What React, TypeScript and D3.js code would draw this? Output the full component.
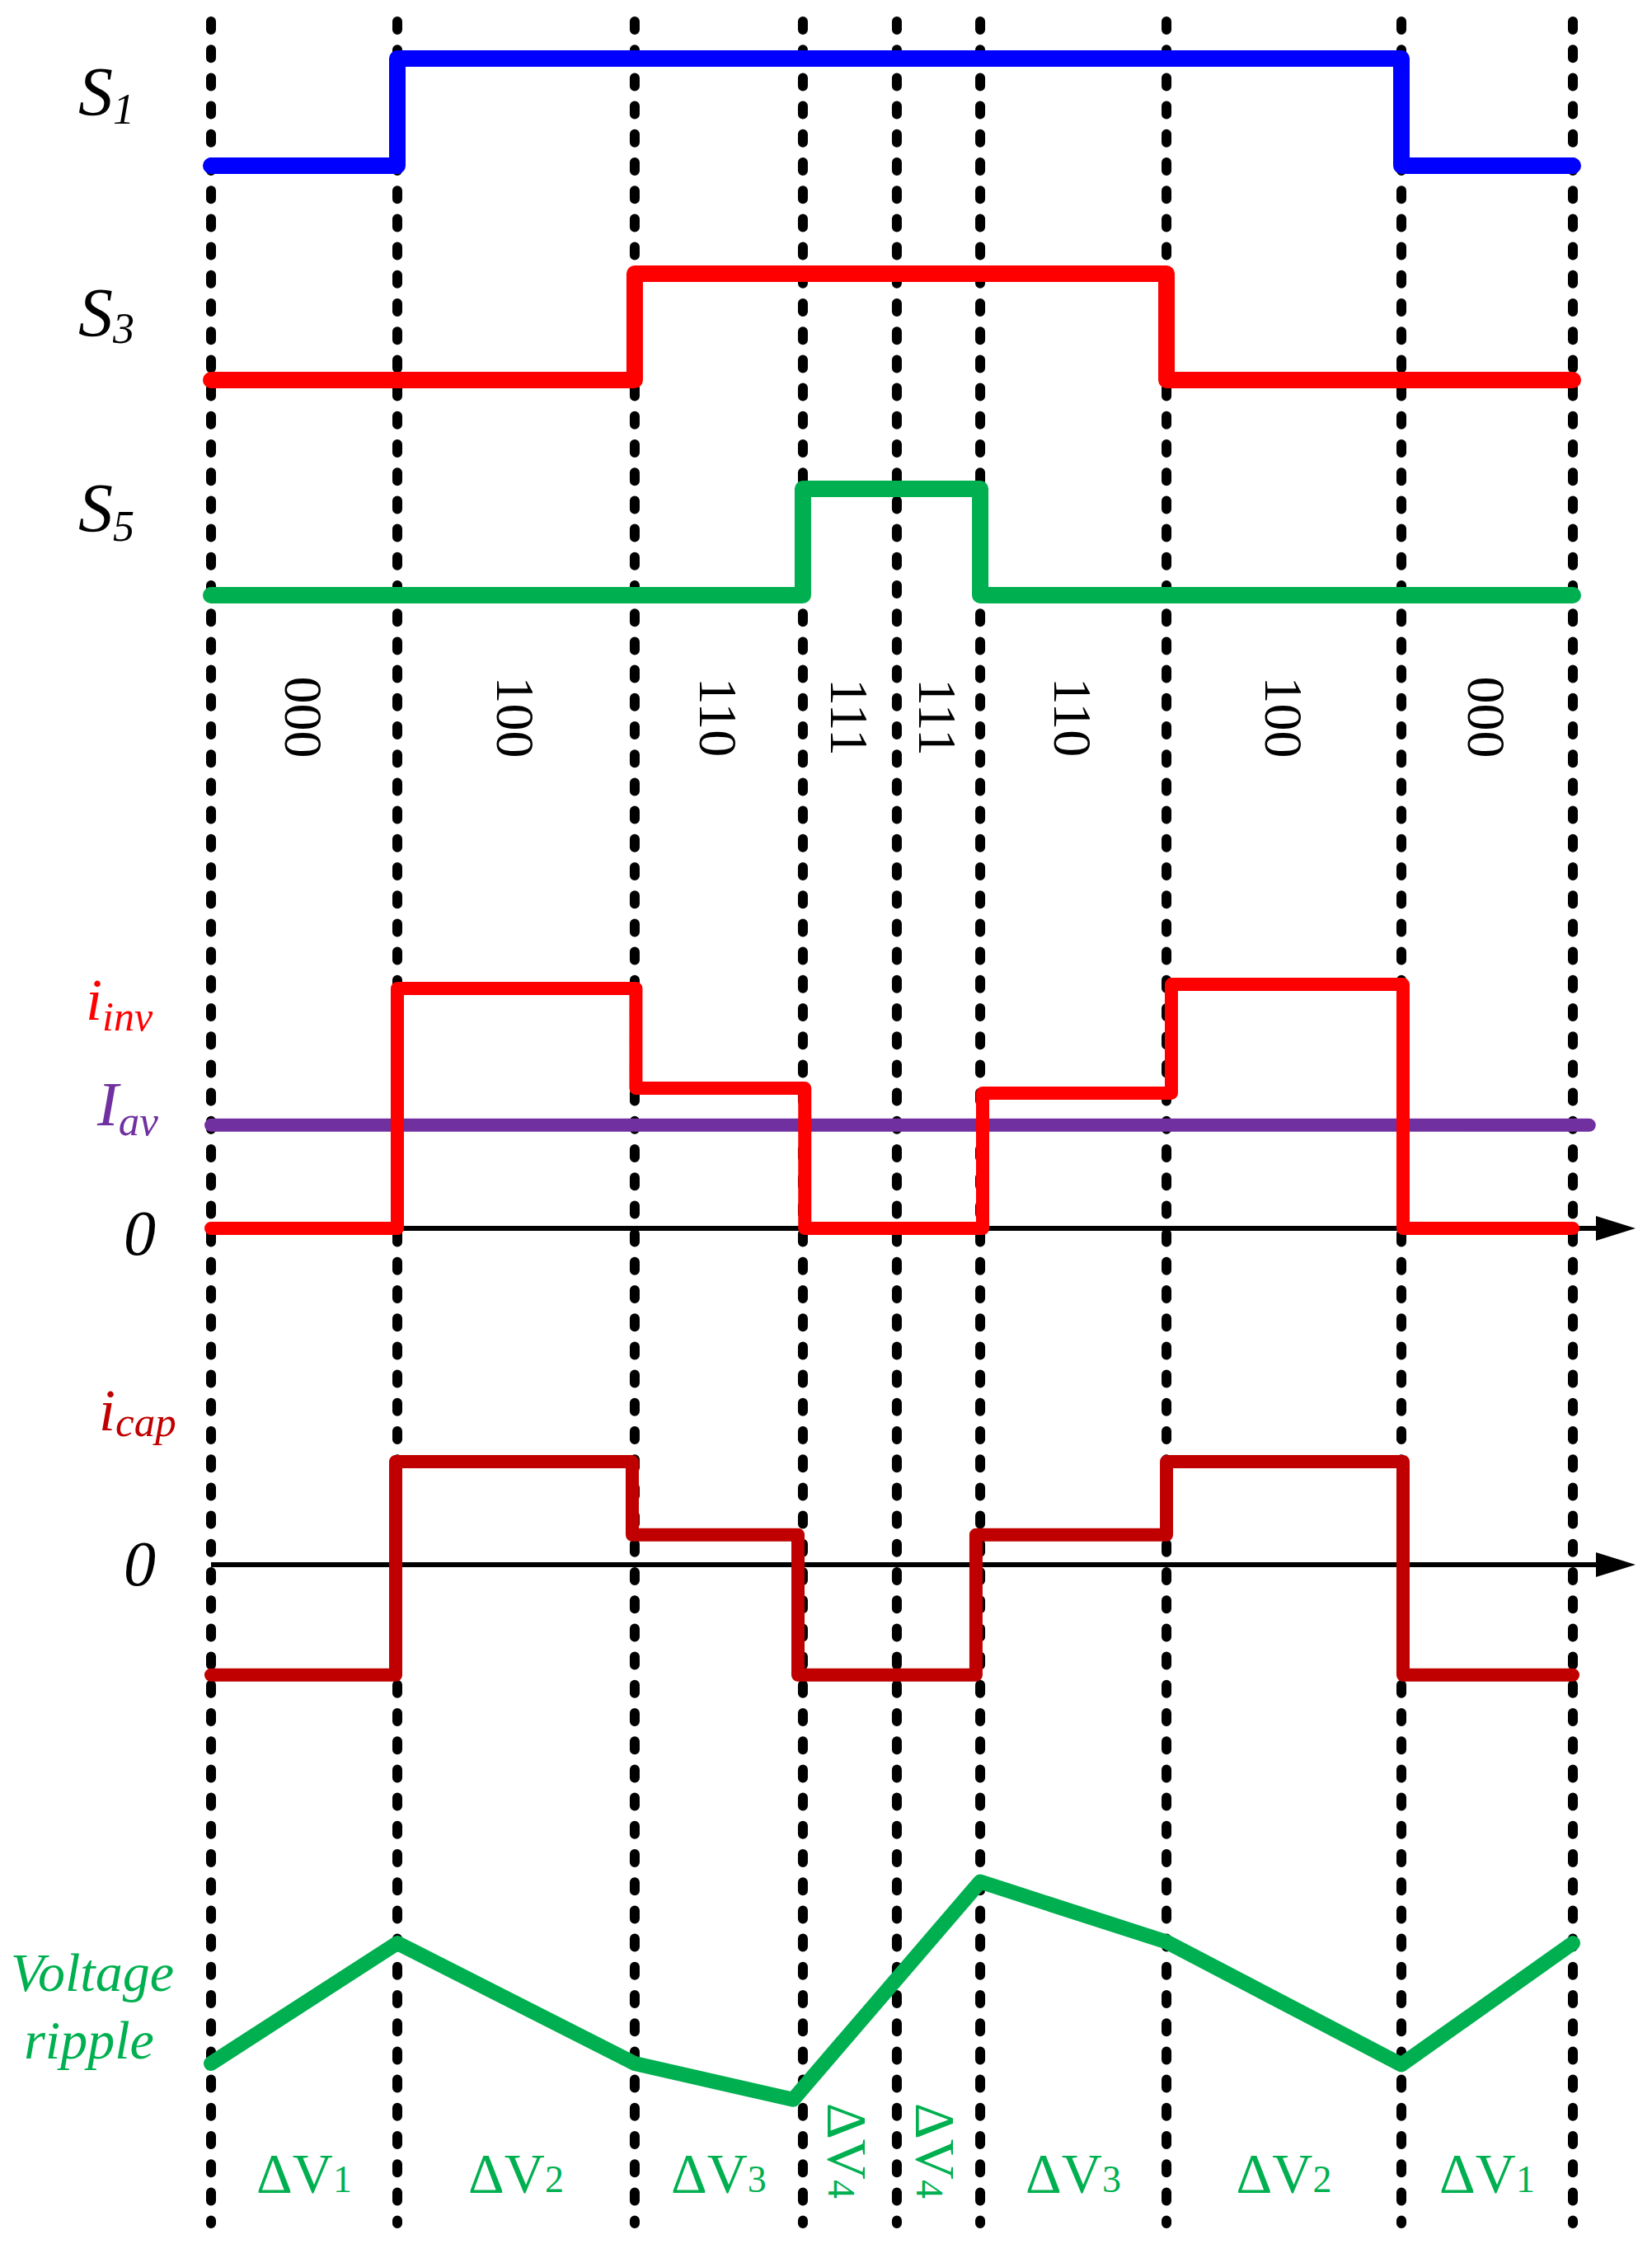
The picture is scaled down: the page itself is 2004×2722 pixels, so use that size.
import React from "react";
import * as d3 from "d3";

// ---------- data ----------
// switching instants (time in % of the period)
const boundaries = [0, 13.68, 31.11, 43.46, 50.36, 56.48, 70.16, 87.41, 100];
const stateCodes = ["000", "100", "110", "111", "111", "110", "100", "000"];
const s1Values = [0, 1, 1, 1, 1, 1, 1, 0];
const s3Values = [0, 0, 1, 1, 1, 1, 0, 0];
const s5Values = [0, 0, 0, 1, 1, 0, 0, 0];

const iinvTimes = [0, 13.68, 31.2, 43.6, 56.66, 70.52, 87.53, 100];
const iinvValues = [0, 1.0, 0.584, 0, 0.564, 1.017, 0, 0];
const iavValue = 0.43;
const iavEnd = 101.2;

const icapTimes = [0, 13.56, 30.93, 43.1, 56.17, 70.16, 87.53, 100];
const icapValues = [-1.07, 1.0, 0.29, -1.07, 0.29, 1.0, -1.07, -1.07];

const rippleTimes = [0, 13.68, 31.11, 42.74, 56.48, 70.16, 87.41, 100];
const rippleValues = [0, 1, 0, -0.3, 1.51, 1.01, -0.01, 1.0];

const deltaLabels = ["1", "2", "3", "4", "4", "3", "2", "1"];

// ---------- layout ----------
const W = 2004;
const H = 2722;
const FONT = "'Liberation Serif', 'Times New Roman', Times, serif";

const x = d3.scaleLinear().domain([0, 100]).range([256, 1908]);
const yS1 = d3.scaleLinear().domain([0, 1]).range([201, 71]);
const yS3 = d3.scaleLinear().domain([0, 1]).range([461, 332]);
const yS5 = d3.scaleLinear().domain([0, 1]).range([722, 593]);
const yInv = d3.scaleLinear().domain([0, 1]).range([1490, 1199]);
const yCap = d3.scaleLinear().domain([0, 1]).range([1898, 1773]);
const yRip = d3.scaleLinear().domain([0, 1]).range([2503, 2357]);

function stepPath(times: number[], vals: number[], y: d3.ScaleLinear<number, number>) {
  const pts: [number, number][] = times.map((t, i) => [x(t), y(vals[i])]);
  return d3.line().curve(d3.curveStepAfter)(pts) || "";
}

function linePath(times: number[], vals: number[], y: d3.ScaleLinear<number, number>) {
  const pts: [number, number][] = times.map((t, i) => [x(t), y(vals[i])]);
  return d3.line()(pts) || "";
}

function withEnd(vals: number[]) {
  return [...vals, vals[vals.length - 1]];
}

export default function App() {
  const mids = boundaries.slice(0, -1).map((b, i) => (x(b) + x(boundaries[i + 1])) / 2);
  const axisEnd = 1936;
  const arrowTip = 1984;

  const common = {
    fill: "none",
    strokeLinecap: "round" as const,
    strokeLinejoin: "round" as const,
  };

  return (
    <svg
      width={W}
      height={H}
      viewBox={`0 0 ${W} ${H}`}
      style={{ position: "absolute", left: 0, top: 0, background: "#fff" }}
    >
      <rect x={0} y={0} width={W} height={H} fill="#fff" />

      {/* dashed time markers */}
      {boundaries.map((b, i) => (
        <line
          key={"d" + i}
          x1={x(b)}
          x2={x(b)}
          y1={26}
          y2={2697}
          stroke="#000"
          strokeWidth={12}
          strokeDasharray="10 24.2"
          strokeLinecap="round"
        />
      ))}

      {/* switch signals */}
      <path d={stepPath(boundaries, withEnd(s1Values), yS1)} stroke="#0000FF" strokeWidth={20} {...common} />
      <path d={stepPath(boundaries, withEnd(s3Values), yS3)} stroke="#FF0000" strokeWidth={20} {...common} />
      <path d={stepPath(boundaries, withEnd(s5Values), yS5)} stroke="#00B050" strokeWidth={20} {...common} />

      {/* S labels */}
      <text x={95} y={140} fontFamily={FONT} fontStyle="italic" fontSize={84} fill="#000">
        S<tspan fontSize={52} dy={10}>1</tspan>
      </text>
      <text x={95} y={408} fontFamily={FONT} fontStyle="italic" fontSize={84} fill="#000">
        S<tspan fontSize={52} dy={8}>3</tspan>
      </text>
      <text x={95} y={645} fontFamily={FONT} fontStyle="italic" fontSize={84} fill="#000">
        S<tspan fontSize={52} dy={11}>5</tspan>
      </text>

      {/* state codes */}
      {stateCodes.map((c, i) => (
        <text
          key={"s" + i}
          transform={`translate(${mids[i] - 23},870) rotate(90)`}
          textAnchor="middle"
          fontFamily={FONT}
          fontSize={66}
          fill="#000"
        >
          {c}
        </text>
      ))}

      {/* i_inv axis */}
      <line x1={x(0)} x2={axisEnd} y1={yInv(0)} y2={yInv(0)} stroke="#000" strokeWidth={6} />
      <path d={`M${axisEnd},${yInv(0) - 15} L${arrowTip},${yInv(0)} L${axisEnd},${yInv(0) + 15} Z`} fill="#000" />

      {/* I_av */}
      <line
        x1={x(0)}
        x2={x(iavEnd)}
        y1={yInv(iavValue)}
        y2={yInv(iavValue)}
        stroke="#7030A0"
        strokeWidth={16}
        strokeLinecap="round"
      />
      {/* i_inv */}
      <path d={stepPath(iinvTimes, iinvValues, yInv)} stroke="#FF0000" strokeWidth={16} {...common} />

      {/* i_cap axis */}
      <line x1={x(0)} x2={axisEnd} y1={yCap(0)} y2={yCap(0)} stroke="#000" strokeWidth={6} />
      <path d={`M${axisEnd},${yCap(0) - 15} L${arrowTip},${yCap(0)} L${axisEnd},${yCap(0) + 15} Z`} fill="#000" />
      <path d={stepPath(icapTimes, icapValues, yCap)} stroke="#C00000" strokeWidth={16} {...common} />

      {/* current labels */}
      <text x={104} y={1237} fontFamily={FONT} fontStyle="italic" fontSize={72} fill="#FF0000">
        i<tspan fontSize={50} dy={13}>inv</tspan>
      </text>
      <text x={118} y={1365} fontFamily={FONT} fontStyle="italic" fontSize={77} fill="#7030A0">
        I<tspan fontSize={51} dy={12}>av</tspan>
      </text>
      <text x={150} y={1522} fontFamily={FONT} fontStyle="italic" fontSize={78} fill="#000">
        0
      </text>
      <text x={120} y={1735} fontFamily={FONT} fontStyle="italic" fontSize={72} fill="#C00000">
        i<tspan fontSize={51} dy={7}>cap</tspan>
      </text>
      <text x={150} y={1923} fontFamily={FONT} fontStyle="italic" fontSize={78} fill="#000">
        0
      </text>

      {/* voltage ripple */}
      <path d={linePath(rippleTimes, rippleValues, yRip)} stroke="#00B050" strokeWidth={18} {...common} />
      <text x={112} y={2415} textAnchor="middle" fontFamily={FONT} fontStyle="italic" fontSize={66} fill="#00B050">
        Voltage
      </text>
      <text x={108} y={2497} textAnchor="middle" fontFamily={FONT} fontStyle="italic" fontSize={66} fill="#00B050">
        ripple
      </text>

      {/* ΔV labels */}
      {deltaLabels.map((d, i) =>
        d === "4" ? (
          <text
            key={"dv" + i}
            transform={`translate(${mids[i] - 26},2609) rotate(90)`}
            textAnchor="middle"
            fontFamily={FONT}
            fontSize={68}
            fill="#00B050"
          >
            ΔV<tspan fontSize={46}>{d}</tspan>
          </text>
        ) : (
          <text
            key={"dv" + i}
            x={mids[i]}
            y={2659}
            textAnchor="middle"
            fontFamily={FONT}
            fontSize={68}
            fill="#00B050"
          >
            ΔV<tspan fontSize={46}>{d}</tspan>
          </text>
        )
      )}
    </svg>
  );
}
